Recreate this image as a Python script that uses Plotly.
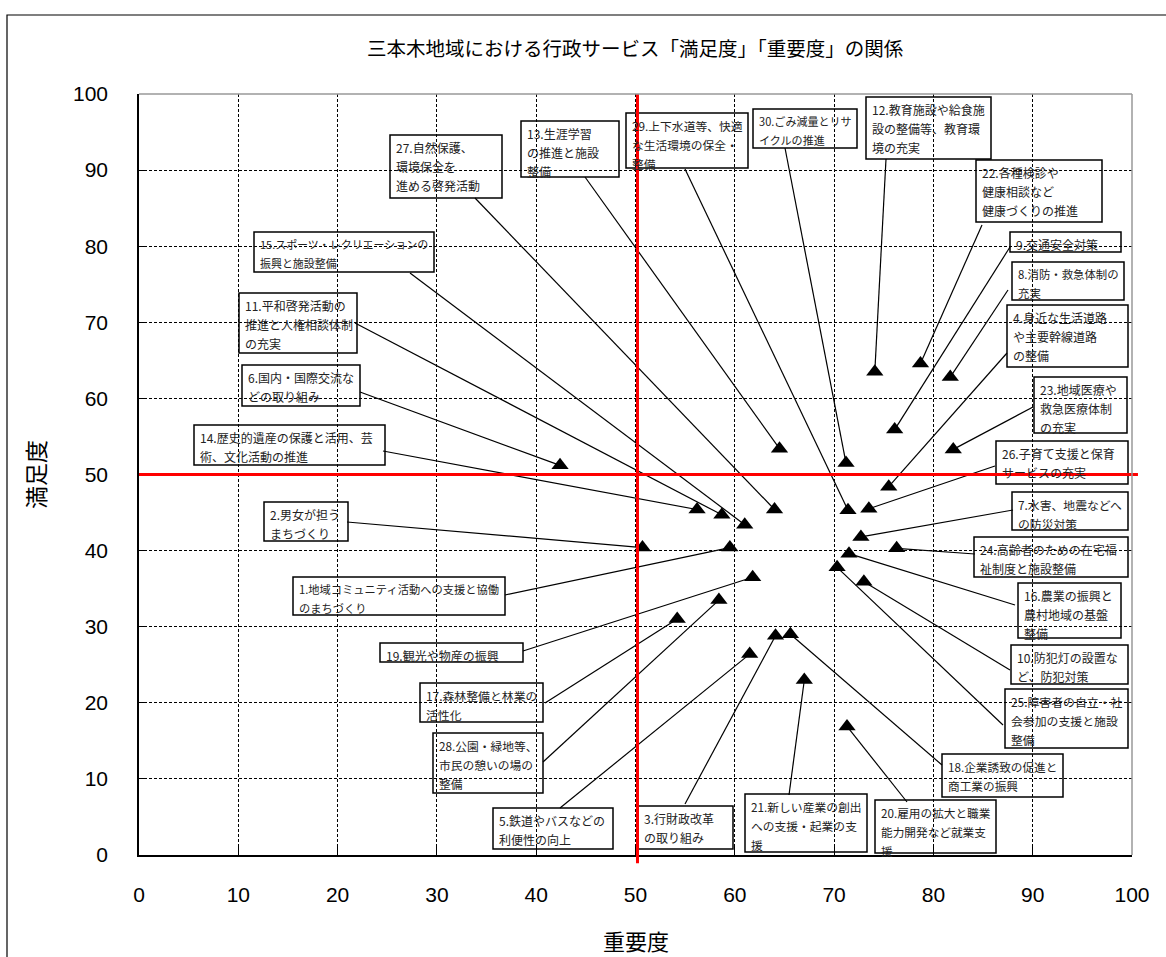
import plotly.graph_objects as go

# 重要度 (x) / 満足度 (y) for items 1..30
importance = [59.5, 50.7, 64.1, 75.5, 61.5, 42.4, 72.7, 81.7, 76.1, 73.0,
              58.7, 74.1, 64.5, 56.2, 61.0, 71.5, 54.2, 65.6, 61.8, 71.3,
              67.0, 78.7, 82.0, 76.3, 70.3, 73.5, 64.0, 58.4, 71.4, 71.2]
satisfaction = [40.4, 40.4, 28.8, 48.4, 26.4, 51.2, 41.8, 62.8, 55.9, 35.9,
                44.7, 63.5, 53.4, 45.4, 43.4, 39.6, 31.0, 29.0, 36.5, 16.9,
                23.0, 64.6, 53.3, 40.3, 37.8, 45.5, 45.4, 33.5, 45.3, 51.5]
labels = [
    "1.地域コミュニティ活動への支援と協働<br>のまちづくり",
    "2.男女が担う<br>まちづくり",
    "3.行財政改革<br>の取り組み",
    "4.身近な生活道路<br>や主要幹線道路<br>の整備",
    "5.鉄道やバスなどの<br>利便性の向上",
    "6.国内・国際交流な<br>どの取り組み",
    "7.水害、地震などへ<br>の防災対策",
    "8.消防・救急体制の<br>充実",
    "9.交通安全対策",
    "10.防犯灯の設置な<br>ど、防犯対策",
    "11.平和啓発活動の<br>推進と人権相談体制<br>の充実",
    "12.教育施設や給食施<br>設の整備等、教育環<br>境の充実",
    "13.生涯学習<br>の推進と施設<br>整備",
    "14.歴史的遺産の保護と活用、芸<br>術、文化活動の推進",
    "15.スポーツ・レクリエーションの<br>振興と施設整備",
    "16.農業の振興と<br>農村地域の基盤<br>整備",
    "17.森林整備と林業の<br>活性化",
    "18.企業誘致の促進と<br>商工業の振興",
    "19.観光や物産の振興",
    "20.雇用の拡大と職業<br>能力開発など就業支<br>援",
    "21.新しい産業の創出<br>への支援・起業の支<br>援",
    "22.各種検診や<br>健康相談など<br>健康づくりの推進",
    "23.地域医療や<br>救急医療体制<br>の充実",
    "24.高齢者のための在宅福<br>祉制度と施設整備",
    "25.障害者の自立・社<br>会参加の支援と施設<br>整備",
    "26.子育て支援と保育<br>サービスの充実",
    "27.自然保護、<br>環境保全を<br>進める啓発活動",
    "28.公園・緑地等、<br>市民の憩いの場の<br>整備",
    "29.上下水道等、快適<br>な生活環境の保全・<br>整備",
    "30.ごみ減量とリサ<br>イクルの推進",
]
avg_importance = 50.2
avg_satisfaction = 50.0

# label boxes in page pixels: left, top, right, bottom, leader start x, y
boxes = [
    (293, 577, 505, 615, 505, 595), (264, 502, 348, 541, 347, 522),
    (638, 806, 733, 849, 685, 804), (1007, 305, 1128, 367, 1007, 353),
    (493, 808, 613, 849, 560, 808), (242, 365, 360, 406, 360, 392),
    (1012, 492, 1128, 530, 1013, 510), (1012, 262, 1124, 300, 1008, 290),
    (1010, 232, 1121, 252, 1010, 247), (1011, 645, 1128, 684, 1010, 670),
    (239, 293, 357, 353, 355, 323), (866, 97, 991, 159, 886, 159),
    (521, 121, 619, 177, 585, 177), (194, 425, 385, 465, 383, 451),
    (254, 232, 434, 272, 410, 273), (1018, 583, 1121, 638, 1015, 605),
    (420, 683, 543, 722, 545, 703), (942, 754, 1063, 797, 942, 765),
    (380, 643, 523, 662, 523, 651), (875, 800, 996, 853, 907, 802),
    (745, 794, 867, 852, 789, 795), (976, 160, 1102, 222, 982, 225),
    (1034, 377, 1127, 433, 1033, 407), (974, 537, 1128, 577, 975, 554),
    (1005, 689, 1128, 748, 1003, 725), (996, 441, 1128, 484, 995, 466),
    (390, 135, 502, 198, 475, 198), (433, 733, 543, 793, 543, 762),
    (626, 113, 748, 168, 685, 169), (753, 109, 857, 148, 785, 148),
]

L, R, T, B = 139, 1132, 94, 855
FS = 12
LINE_H = 19


def px_x(p):
    return (p - L) / (R - L) * 100


def px_y(p):
    return (B - p) / (B - T) * 100


def text_width(s, fs):
    return sum(fs * (0.56 if ord(c) < 128 else 1.0) for c in s)


fig = go.Figure()

fig.add_trace(go.Scatter(
    x=importance, y=satisfaction, mode='markers',
    marker=dict(symbol='triangle-up', size=15, color='black'),
    hoverinfo='x+y', showlegend=False
))

shapes = []
annotations = []
for i, (l, t, r, b, sx, sy) in enumerate(boxes):
    shapes.append(dict(type='line', xref='x', yref='y',
                       x0=px_x(sx), y0=px_y(sy),
                       x1=importance[i], y1=satisfaction[i],
                       line=dict(color='black', width=1.2)))
    shapes.append(dict(type='rect', xref='x', yref='y',
                       x0=px_x(l), x1=px_x(r), y0=px_y(b), y1=px_y(t),
                       line=dict(color='black', width=1.5)))
    lines = labels[i].split('<br>')
    avail = r - l - 8
    need = max(text_width(s, FS) for s in lines)
    fs = FS if need <= avail else FS * avail / need
    for k, s in enumerate(lines):
        annotations.append(dict(
            x=px_x(l + 4), y=px_y(t + 2 + k * LINE_H), xref='x', yref='y',
            xanchor='left', yanchor='top', showarrow=False, text=s,
            font=dict(family='Noto Sans CJK JP', size=fs, color='#222')
        ))

# average lines
shapes.append(dict(type='line', xref='x', yref='paper', x0=avg_importance, x1=avg_importance,
                   y0=-0.011, y1=1.0, line=dict(color='red', width=3)))
shapes.append(dict(type='line', xref='paper', yref='y', x0=0, x1=1.006,
                   y0=avg_satisfaction, y1=avg_satisfaction, line=dict(color='red', width=3)))
# plot frame (top / right in grey)
shapes.append(dict(type='line', xref='paper', yref='paper', x0=0, x1=1, y0=1, y1=1,
                   line=dict(color='#999', width=1.5)))
shapes.append(dict(type='line', xref='paper', yref='paper', x0=1, x1=1, y0=0, y1=1,
                   line=dict(color='#999', width=1.5)))
# outer chart border
shapes.append(dict(type='rect', xref='paper', yref='paper',
                   x0=px_x(7) / 100, x1=px_x(1175) / 100,
                   y0=px_y(965) / 100, y1=px_y(15) / 100,
                   line=dict(color='black', width=1.2)))

annotations.append(dict(text='三本木地域における行政サービス「満足度」「重要度」の関係',
                        xref='paper', yref='paper', x=0.4995, y=px_y(47) / 100,
                        showarrow=False, xanchor='center', yanchor='middle',
                        font=dict(family='Noto Sans CJK JP', size=19.5, color='black')))
annotations.append(dict(text='重要度', xref='paper', yref='paper', x=0.5005, y=px_y(940) / 100,
                        showarrow=False, xanchor='center', yanchor='middle',
                        font=dict(family='Noto Sans CJK JP', size=22, color='black')))
annotations.append(dict(text='満足度', xref='paper', yref='paper', x=px_x(35) / 100, y=px_y(475) / 100,
                        showarrow=False, xanchor='center', yanchor='middle', textangle=-90,
                        font=dict(family='Noto Sans CJK JP', size=23, color='black')))

axis_common = dict(
    range=[0, 100], dtick=10, tick0=0,
    showgrid=True, gridcolor='black', gridwidth=1, griddash='3px,2px',
    showline=True, linecolor='black', linewidth=1.5, mirror=False,
    ticks='inside', ticklen=8, tickcolor='black', tickwidth=1,
    zeroline=False,
    tickfont=dict(family='Liberation Sans', size=21, color='black'),
)

fig.update_layout(
    width=1166, height=957,
    margin=dict(l=L, r=1166 - R, t=T, b=957 - B),
    paper_bgcolor='white', plot_bgcolor='white',
    xaxis=dict(**axis_common, ticklabelstandoff=20),
    yaxis=dict(**axis_common, ticklabelstandoff=25),
    shapes=shapes, annotations=annotations,
    showlegend=False,
)

fig.write_html("out.html", config={'displayModeBar': False},
               post_script="document.body.style.margin='0';")
